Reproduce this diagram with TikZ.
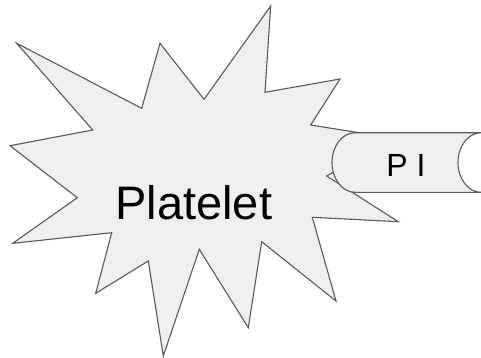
\documentclass[tikz,border=0pt]{standalone}
\usepackage{fontspec}
\setmainfont{Liberation Sans}
\usetikzlibrary{positioning}
\definecolor{blobfill}{HTML}{EFEFEF}
\definecolor{blobline}{HTML}{595959}
\tikzstyle{blob}=[draw=blobline,fill=blobfill,line width=1.1pt]
\tikzstyle{lbl}=[inner sep=0pt,text=black]

\begin{document}
\begin{tikzpicture}[x=1pt,y=-1pt]
\useasboundingbox (0,0) rectangle (481,357);
% starburst
\draw[blob] (16.7,43.3) -- (141.7,108.3) -- (160,43.3) -- (204,99.3) -- (270.7,6) -- (265,92.3)
  -- (340,79) -- (310.7,125) -- (392,138) -- (326.7,176) -- (398.3,221.7) -- (312.3,217.3)
  -- (336,301) -- (261.7,241.7) -- (248.3,327.7) -- (199.3,249.3) -- (163.3,356) -- (148.3,261)
  -- (95.7,293.3) -- (111.7,232.7) -- (12.7,243.3) -- (77.3,197.7) -- (10,145.7) -- (92.7,130) -- cycle;
\node[lbl,font=\fontsize{47}{56}\selectfont] (A) at (193.8,202.3) {Platelet};
% lying can
\draw[blob] (481,132.7) -- (355,132.7) arc[start angle=90,end angle=270,x radius=23pt,y radius=29.8pt]
  -- (481,192.3) arc[start angle=270,end angle=90,x radius=23pt,y radius=29.8pt] -- cycle;
\node[lbl,font=\fontsize{32}{38}\selectfont] (B) at (406,165.3) {P I};
\end{tikzpicture}
\end{document}
